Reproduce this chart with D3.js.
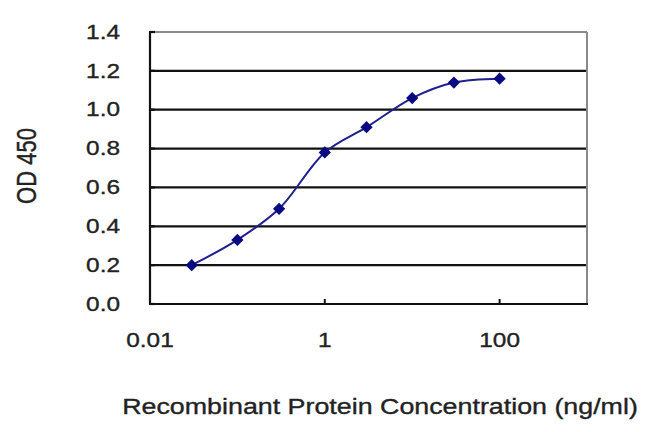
<!DOCTYPE html>
<html><head><meta charset="utf-8">
<script src="https://cdn.jsdelivr.net/npm/d3@7"></script>
<style>html,body{margin:0;padding:0;background:#fff;}svg{display:block;}</style>
</head><body>
<svg id="chart" width="650" height="432"></svg>
<script>
const concentrations = [0.03, 0.1, 0.3, 1, 3, 10, 30, 100];
const odValues = [0.20, 0.33, 0.49, 0.78, 0.91, 1.06, 1.14, 1.16];
const xTickValues = [0.01, 1, 100];
const xTickLabels = ["0.01", "1", "100"];
const yTickValues = [0, 0.2, 0.4, 0.6, 0.8, 1.0, 1.2, 1.4];
const yTickLabels = ["0.0", "0.2", "0.4", "0.6", "0.8", "1.0", "1.2", "1.4"];
const yTitle = "OD 450";
const xTitle = "Recombinant Protein Concentration (ng/ml)";

const svg = d3.select("#chart");
const L = 150, R = 587, T = 32, B = 304;
const SX = 1.22;
const font = "'Liberation Sans', Arial, sans-serif";
const txtColor = "#222";

const x = d3.scaleLog().domain([0.01, 1000]).range([L, R]);
const y = d3.scaleLinear().domain([0, 1.4]).range([B, T]);

// gridlines
const grid = svg.append("g");
yTickValues.forEach(v => {
  if (v === 0) return;
  grid.append("line")
    .attr("x1", L).attr("x2", R).attr("y1", y(v)).attr("y2", y(v))
    .attr("stroke", v === 1.4 ? "#8a8a8a" : "#111")
    .attr("stroke-width", 2.2);
});
// right border
grid.append("line").attr("x1", R).attr("x2", R).attr("y1", T).attr("y2", B)
  .attr("stroke", "#8a8a8a").attr("stroke-width", 2);

// y ticks (inside)
yTickValues.forEach(v => {
  svg.append("line").attr("x1", L).attr("x2", L + 5).attr("y1", y(v)).attr("y2", y(v))
    .attr("stroke", "#111").attr("stroke-width", 2.2);
});
// x ticks (inside, upward)
xTickValues.forEach(v => {
  svg.append("line").attr("x1", x(v)).attr("x2", x(v)).attr("y1", B).attr("y2", B - 5)
    .attr("stroke", "#111").attr("stroke-width", 2);
});
// axes lines
svg.append("line").attr("x1", L).attr("x2", L).attr("y1", T - 1).attr("y2", B + 1)
  .attr("stroke", "#111").attr("stroke-width", 2.2);
svg.append("line").attr("x1", L - 1).attr("x2", R + 1).attr("y1", B).attr("y2", B)
  .attr("stroke", "#111").attr("stroke-width", 2.2);

function styleText(sel, size) {
  sel.attr("font-family", font).attr("font-size", size).attr("fill", txtColor)
    .attr("stroke", txtColor).attr("stroke-width", 0.35);
}
// y tick labels
yTickValues.forEach((v, i) => {
  svg.append("text")
    .attr("transform", `translate(120,${y(v)}) scale(${SX},1)`)
    .attr("text-anchor", "end").attr("dominant-baseline", "central")
    .call(styleText, 20)
    .text(yTickLabels[i]);
});
// x tick labels
xTickValues.forEach((v, i) => {
  svg.append("text")
    .attr("transform", `translate(${x(v)},347) scale(${SX},1)`)
    .attr("text-anchor", "middle")
    .call(styleText, 20)
    .text(xTickLabels[i]);
});
// axis titles
svg.append("text")
  .attr("transform", `translate(36,166) scale(${SX},1) rotate(-90)`)
  .attr("text-anchor", "middle")
  .call(styleText, 22)
  .text(yTitle);
svg.append("text")
  .attr("transform", `translate(380,414) scale(${SX},1)`)
  .attr("text-anchor", "middle")
  .call(styleText, 22)
  .text(xTitle);

// data
const pts = concentrations.map((c, i) => [c, odValues[i]]);
const line = d3.line().x(d => x(d[0])).y(d => y(d[1])).curve(d3.curveCatmullRom.alpha(0.5));
svg.append("path").attr("d", line(pts)).attr("fill", "none")
  .attr("stroke", "#1f1f8f").attr("stroke-width", 2);

const squareDiamond = {
  draw(ctx, size) {
    const r = Math.sqrt(size) / 2;
    ctx.moveTo(0, -r); ctx.lineTo(r, 0); ctx.lineTo(0, r); ctx.lineTo(-r, 0); ctx.closePath();
  }
};
svg.append("g").selectAll("path").data(pts).join("path")
  .attr("transform", d => `translate(${x(d[0])},${y(d[1])})`)
  .attr("d", d3.symbol().type(squareDiamond).size(150))
  .attr("fill", "#0a0a80");
</script>
</body></html>
